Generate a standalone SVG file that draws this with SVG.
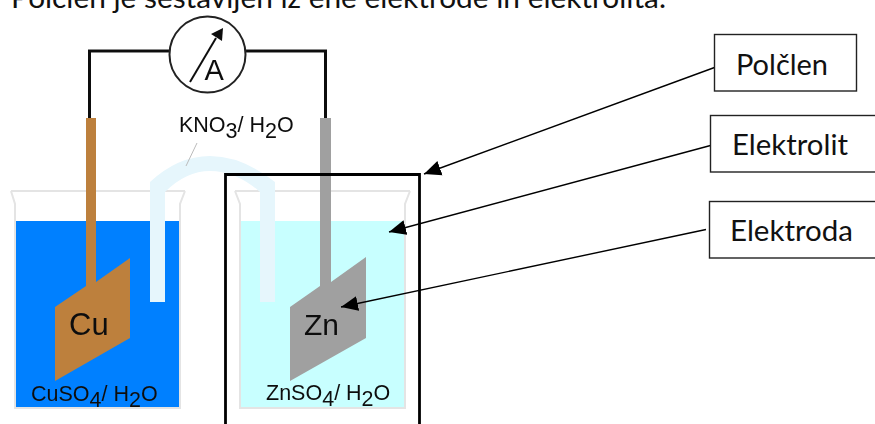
<svg xmlns="http://www.w3.org/2000/svg" width="875" height="424" viewBox="0 0 875 424">
<defs>
<style>
.cal{font-family:"Lato","Open Sans",sans-serif;font-size:29px;fill:#111}
.ar{font-family:"Liberation Sans",Arial,sans-serif;fill:#111}
.sm{font-size:21.500px}
.box{fill:#fff;stroke:#222;stroke-width:1.400}
.lead{stroke:#000;stroke-width:1.400;fill:none;marker-end:url(#ah)}
.beaker{fill:none;stroke:#e4e4e4;stroke-width:2}
</style>
<filter id="soft" x="-5%" y="-5%" width="110%" height="110%"><feGaussianBlur stdDeviation="0.550"/></filter>
<marker id="ah" markerUnits="userSpaceOnUse" markerWidth="18" markerHeight="16" refX="17" refY="8" orient="auto"><path d="M0 0.500L17 8L0 15.500Z" fill="#000"/></marker>
</defs>
<rect width="875" height="424" fill="#fff"/>
<text class="cal" x="11" y="8" textLength="655" lengthAdjust="spacingAndGlyphs">Polčlen je sestavljen iz ene elektrode in elektrolita.</text>
<g id="apparatus" filter="url(#soft)">
<g id="beaker-left">
<rect x="15" y="221" width="165" height="187" fill="#0080ff"/>
<path class="beaker" d="M11 191H185M11 191L15 204V408H180V204L185 191"/>
</g>
<g id="beaker-right">
<rect x="240" y="221" width="165" height="187" fill="#c8ffff"/>
<path class="beaker" d="M235 191H410M235 191L240 204V408H405V204L410 191"/>
</g>
<g id="electrode-cu">
<path d="M86 118H96V282L130 258V338L55 381V307L86 286Z" fill="#bd803d"/>
<text class="ar" x="69" y="335" font-size="31">Cu</text>
</g>
<g id="electrode-zn">
<path d="M320 118H331V282L366 257V338L290 381V307L320 286Z" fill="#a0a0a0"/>
<text class="ar" x="304" y="335" font-size="30">Zn</text>
</g>
<g id="salt-bridge">
<path d="M150 302V182Q178 156 210 156Q242 156 275 182V302H260V192Q236 171 210 171Q186 171 165 192V302Z" fill="#e6f6fc"/>
<path d="M197 143L186 166" stroke="#bbb" stroke-width="1" fill="none"/>
</g>
<g id="meter">
<path d="M89.500 118V51H170M245 51H325.500V118" fill="none" stroke="#111" stroke-width="3"/>
<circle cx="207.500" cy="54.500" r="38" fill="#fff" stroke="#222" stroke-width="2"/>
<path d="M190 82L216 38" stroke="#111" stroke-width="2"/>
<path d="M223 28L222 41L211 34Z" fill="#111"/>
<text class="ar" x="204.500" y="80" font-size="29">A</text>
</g>
<g id="labels">
<text class="ar sm" x="179" y="132">KNO<tspan dy="6">3</tspan><tspan dy="-6">/ H</tspan><tspan dy="6">2</tspan><tspan dy="-6">O</tspan></text>
<text class="ar sm" x="31" y="401">CuSO<tspan dy="6">4</tspan><tspan dy="-6">/ H</tspan><tspan dy="6">2</tspan><tspan dy="-6">O</tspan></text>
<text class="ar sm" x="266" y="400">ZnSO<tspan dy="6">4</tspan><tspan dy="-6">/ H</tspan><tspan dy="6">2</tspan><tspan dy="-6">O</tspan></text>
</g>
</g>
<g id="half-cell-frame"><path d="M225.500 424V174.500H419.500V424" fill="none" stroke="#000" stroke-width="2.800"/></g>
<g id="connectors">
<path class="lead" d="M714.500 67.500L424 174"/>
<path class="lead" d="M710.500 145.500L389 232"/>
<path class="lead" d="M706 229.500L341 307"/>
</g>
<g id="node-polclen"><rect class="box" x="714.500" y="34.500" width="142" height="56.500"/><text class="cal" x="736" y="75" textLength="92" lengthAdjust="spacingAndGlyphs">Polčlen</text></g>
<g id="node-elektrolit"><rect class="box" x="710.500" y="115.500" width="170" height="56.500"/><text class="cal" x="732" y="155" textLength="116" lengthAdjust="spacingAndGlyphs">Elektrolit</text></g>
<g id="node-elektroda"><rect class="box" x="709.500" y="201.500" width="170" height="56.500"/><text class="cal" x="730" y="241" textLength="123" lengthAdjust="spacingAndGlyphs">Elektroda</text></g>
</svg>
